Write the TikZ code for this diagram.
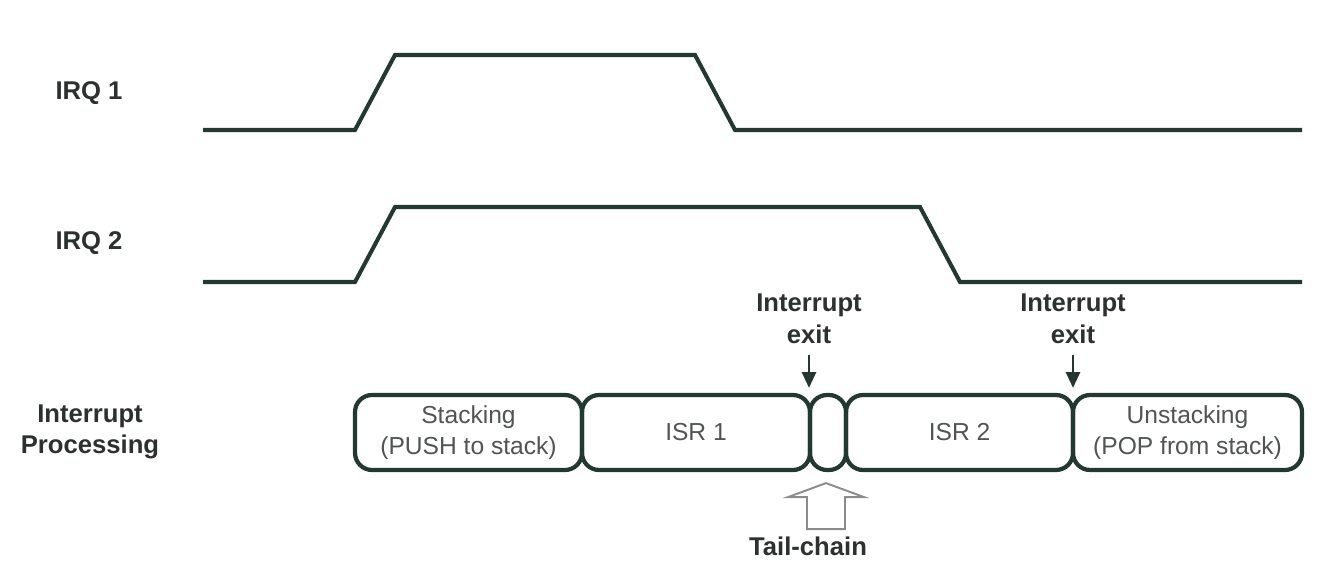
\documentclass[tikz,border=0pt]{standalone}
\usepackage{fontspec}
\setmainfont{Liberation Sans}
\usetikzlibrary{arrows.meta}
\definecolor{sigcol}{RGB}{34,56,48}
\definecolor{labcol}{RGB}{44,48,46}
\definecolor{boxtxt}{RGB}{80,84,82}
\definecolor{hollowcol}{RGB}{140,140,140}
\tikzset{
  signal/.style={draw=sigcol,line width=2.3pt},
  stagebox/.style={draw=sigcol,line width=2.4pt,rounded corners=0.34cm,
    minimum height=1.5cm,inner sep=0pt,align=center,text=boxtxt,
    font=\fontsize{14}{17.6}\selectfont},
  lab/.style={align=center,text=labcol,font=\fontsize{14.6}{18}\selectfont\bfseries},
  exitarrow/.style={draw=sigcol,line width=1.4pt,-{Triangle[width=8pt,length=9pt]},shorten >=0.1cm},
  hollow/.style={draw=hollowcol,line width=1.1pt,fill=white}
}
\begin{document}
\begin{tikzpicture}  % ------ Tail-chaining --------------
      [x=0.02cm,y=-0.02cm]
    \useasboundingbox (0,0) rectangle (1324,574);

    % signal levels
    \draw[signal] (203,130) -- (355,130) -- (395,55) -- (695,55) -- (735,130) -- (1302,130);
    \draw[signal] (203,282) -- (355,282) -- (395,207) -- (920,207) -- (960,282) -- (1302,282);

    \node[lab] (irqa) at (89,93) {IRQ 1};
    \node[lab] (irqb) at (89,243) {IRQ 2};
    \node[lab] (proc) at (90,432) {Interrupt\\Processing};

    % processing stages
    \node[stagebox,minimum width=4.54cm] (push) at (468.5,432.5) {Stacking\\(PUSH to stack)};
    \node[stagebox,minimum width=4.56cm] (isra) at (696,432.5) {ISR 1};
    \node[stagebox,minimum width=0.72cm] (gap) at (828,432.5) {};
    \node[stagebox,minimum width=4.54cm] (isrb) at (959.5,432.5) {ISR 2};
    \node[stagebox,minimum width=4.58cm] (pop) at (1187.5,432.5) {Unstacking\\(POP from stack)};

    % exits
    \node[lab,inner sep=6pt] (exita) at (809,319) {Interrupt\\exit};
    \node[lab,inner sep=6pt] (exitb) at (1073,319) {Interrupt\\exit};
    \draw[exitarrow] (exita.south) -- (exita.south |- isra.north);
    \draw[exitarrow] (exitb.south) -- (exitb.south |- isrb.north);

    % tail-chain
    \node[lab] (tail) at (808,546) {Tail-chain};
    \draw[hollow] ([shift={(-21,57)}]gap.south) -- ([shift={(-21,25)}]gap.south)
       -- ([shift={(-40,25)}]gap.south) -- ([shift={(-2,11)}]gap.south)
       -- ([shift={(36,25)}]gap.south) -- ([shift={(17,25)}]gap.south)
       -- ([shift={(17,57)}]gap.south) -- cycle;
\end{tikzpicture}
\end{document}
